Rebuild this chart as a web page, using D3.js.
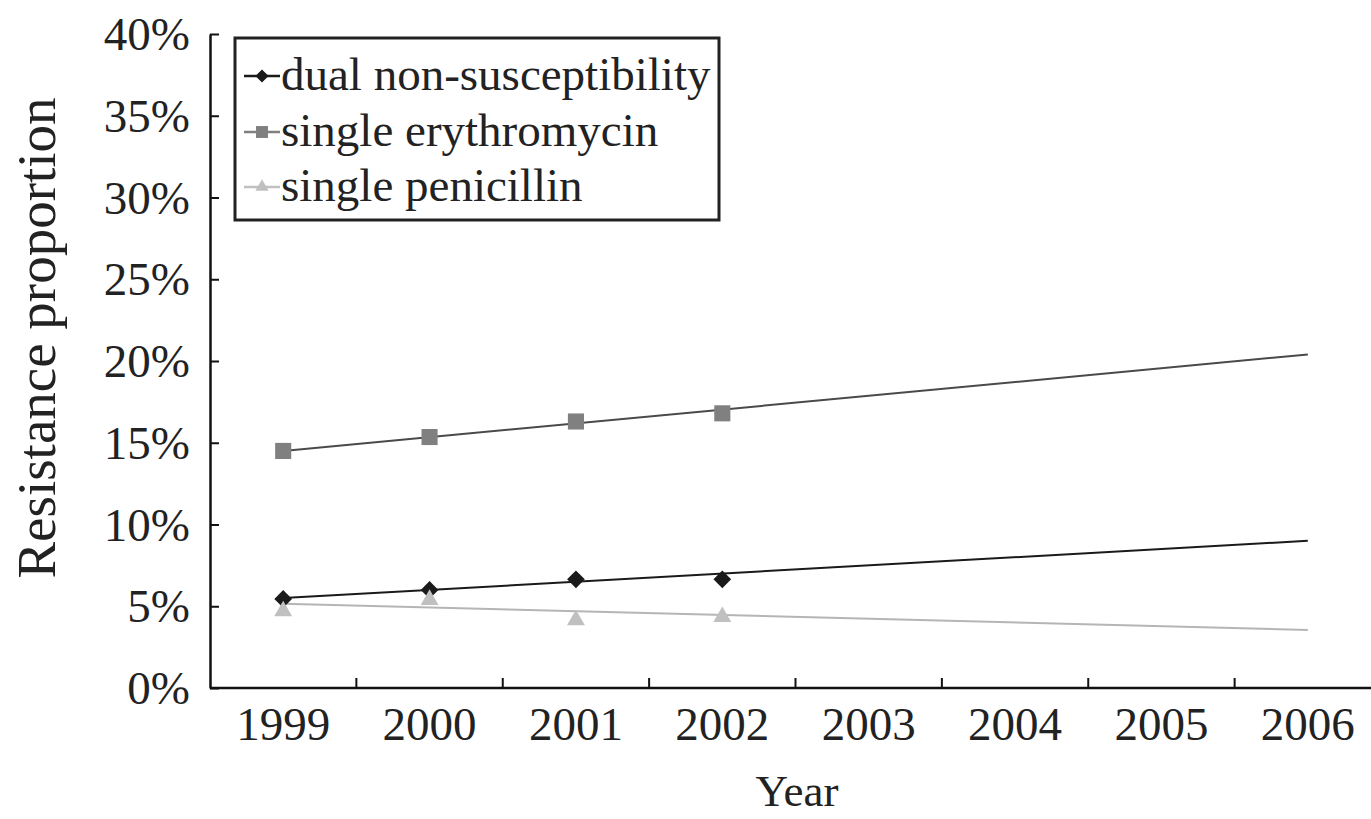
<!DOCTYPE html>
<html>
<head>
<meta charset="utf-8">
<script src="https://cdn.jsdelivr.net/npm/d3@7"></script>
<style>
  body { margin: 0; background: #fff; }
  svg { display: block; font-family: "Liberation Serif", "Times New Roman", serif; }
</style>
</head>
<body>
<div id="chart"></div>
<script>
// chart size
var width = 1371;
var height = 819;

// categories on the x axis
var years = ["1999", "2000", "2001", "2002", "2003", "2004", "2005", "2006"];

// observed values (percent), 1999 - 2002
var dual = [5.45, 6.0, 6.65, 6.65];
var erythro = [14.5, 15.35, 16.3, 16.8];
var penicillin = [4.7, 5.4, 4.15, 4.35];

// trend lines, value at 1999 and at 2006
var dual_trend = [5.5, 9.0];
var erythro_trend = [14.5, 20.4];
var penicillin_trend = [5.15, 3.55];

var y_ticks = [0, 5, 10, 15, 20, 25, 30, 35, 40];

var series = [
	{ name: "dual non-susceptibility", values: dual, trend: dual_trend, color: "#1a1a1a", trend_color: "#1a1a1a", shape: "diamond", size: 200 },
	{ name: "single erythromycin", values: erythro, trend: erythro_trend, color: "#808080", trend_color: "#4a4a4a", shape: "square", size: 330 },
	{ name: "single penicillin", values: penicillin, trend: penicillin_trend, color: "#c0c0c0", trend_color: "#b5b5b5", shape: "triangle", size: 230 }
];

var symbols = {
	diamond: d3.symbolDiamond2,
	square: d3.symbolSquare2,
	triangle: d3.symbolTriangle2
};

// plot area edges (the last category runs past the right edge, as in the original)
var plot_left = 210, plot_right = 1381, plot_top = 34, plot_bottom = 688;

var x_scale = d3.scaleBand().domain(years).range([plot_left, plot_right]);
var y_scale = d3.scaleLinear().domain([0, 40]).range([plot_bottom, plot_top]);

function cx(i) { return x_scale(years[i]) + x_scale.bandwidth() / 2; }

var svg = d3.select("#chart").append("svg")
	.attr("width", width)
	.attr("height", height);

// y axis, ticks pointing inwards
var y_axis = svg.append("g")
	.attr("transform", "translate(" + plot_left + ",0)")
	.call(d3.axisRight(y_scale).tickValues(y_ticks).tickSize(9).tickSizeOuter(0).tickFormat(""));
y_axis.select(".domain").attr("stroke", "#111").attr("stroke-width", 2.5);
y_axis.selectAll(".tick line").attr("stroke", "#111").attr("stroke-width", 2);

svg.append("g").selectAll("text")
	.data(y_ticks)
	.enter().append("text")
	.attr("x", 190)
	.attr("y", function(d) { return y_scale(d) + 16; })
	.attr("text-anchor", "end")
	.attr("font-size", 47)
	.attr("fill", "#222")
	.text(function(d) { return d + "%"; });

// x axis, ticks between categories pointing up
var x_g = svg.append("g");
x_g.append("line")
	.attr("x1", plot_left).attr("x2", plot_right)
	.attr("y1", plot_bottom).attr("y2", plot_bottom)
	.attr("stroke", "#111").attr("stroke-width", 2.5);
x_g.selectAll(".xt")
	.data(years.slice(1))
	.enter().append("line")
	.attr("class", "xt")
	.attr("x1", function(d) { return x_scale(d); })
	.attr("x2", function(d) { return x_scale(d); })
	.attr("y1", plot_bottom).attr("y2", plot_bottom - 10)
	.attr("stroke", "#111").attr("stroke-width", 2);
x_g.selectAll(".xl")
	.data(years)
	.enter().append("text")
	.attr("class", "xl")
	.attr("x", function(d) { return x_scale(d) + x_scale.bandwidth() / 2; })
	.attr("y", 740)
	.attr("text-anchor", "middle")
	.attr("font-size", 47)
	.attr("fill", "#222")
	.text(function(d) { return d; });

// axis titles
svg.append("text")
	.attr("x", 797).attr("y", 806)
	.attr("text-anchor", "middle")
	.attr("font-size", 45)
	.attr("fill", "#222")
	.text("Year");

svg.append("text")
	.attr("transform", "translate(55,338) rotate(-90)")
	.attr("text-anchor", "middle")
	.attr("font-size", 55)
	.attr("fill", "#222")
	.text("Resistance proportion");

// linear trend lines across all years
series.forEach(function(s) {
	svg.append("line")
		.attr("x1", cx(0)).attr("y1", y_scale(s.trend[0]))
		.attr("x2", cx(years.length - 1)).attr("y2", y_scale(s.trend[1]))
		.attr("stroke", s.trend_color)
		.attr("stroke-width", 2);
});

// observed markers
series.forEach(function(s) {
	svg.append("g").selectAll("path")
		.data(s.values)
		.enter().append("path")
		.attr("transform", function(d, i) { return "translate(" + cx(i) + "," + y_scale(d) + ")"; })
		.attr("d", d3.symbol().type(symbols[s.shape]).size(s.size))
		.attr("fill", s.color);
});

// legend
var lg = svg.append("g");
lg.append("rect")
	.attr("x", 235).attr("y", 38)
	.attr("width", 484).attr("height", 182)
	.attr("fill", "#fff")
	.attr("stroke", "#222")
	.attr("stroke-width", 3);

var rows = [76, 132, 187];
series.forEach(function(s, i) {
	lg.append("line")
		.attr("x1", 244).attr("x2", 280)
		.attr("y1", rows[i]).attr("y2", rows[i])
		.attr("stroke", s.color).attr("stroke-width", 2.5);
	lg.append("path")
		.attr("transform", "translate(262," + rows[i] + ")")
		.attr("d", d3.symbol().type(symbols[s.shape]).size(s.size * 0.55))
		.attr("fill", s.color);
	lg.append("text")
		.attr("x", 281).attr("y", rows[i] + 14)
		.attr("font-size", 47)
		.attr("fill", "#222")
		.text(s.name);
});
</script>
</body>
</html>
